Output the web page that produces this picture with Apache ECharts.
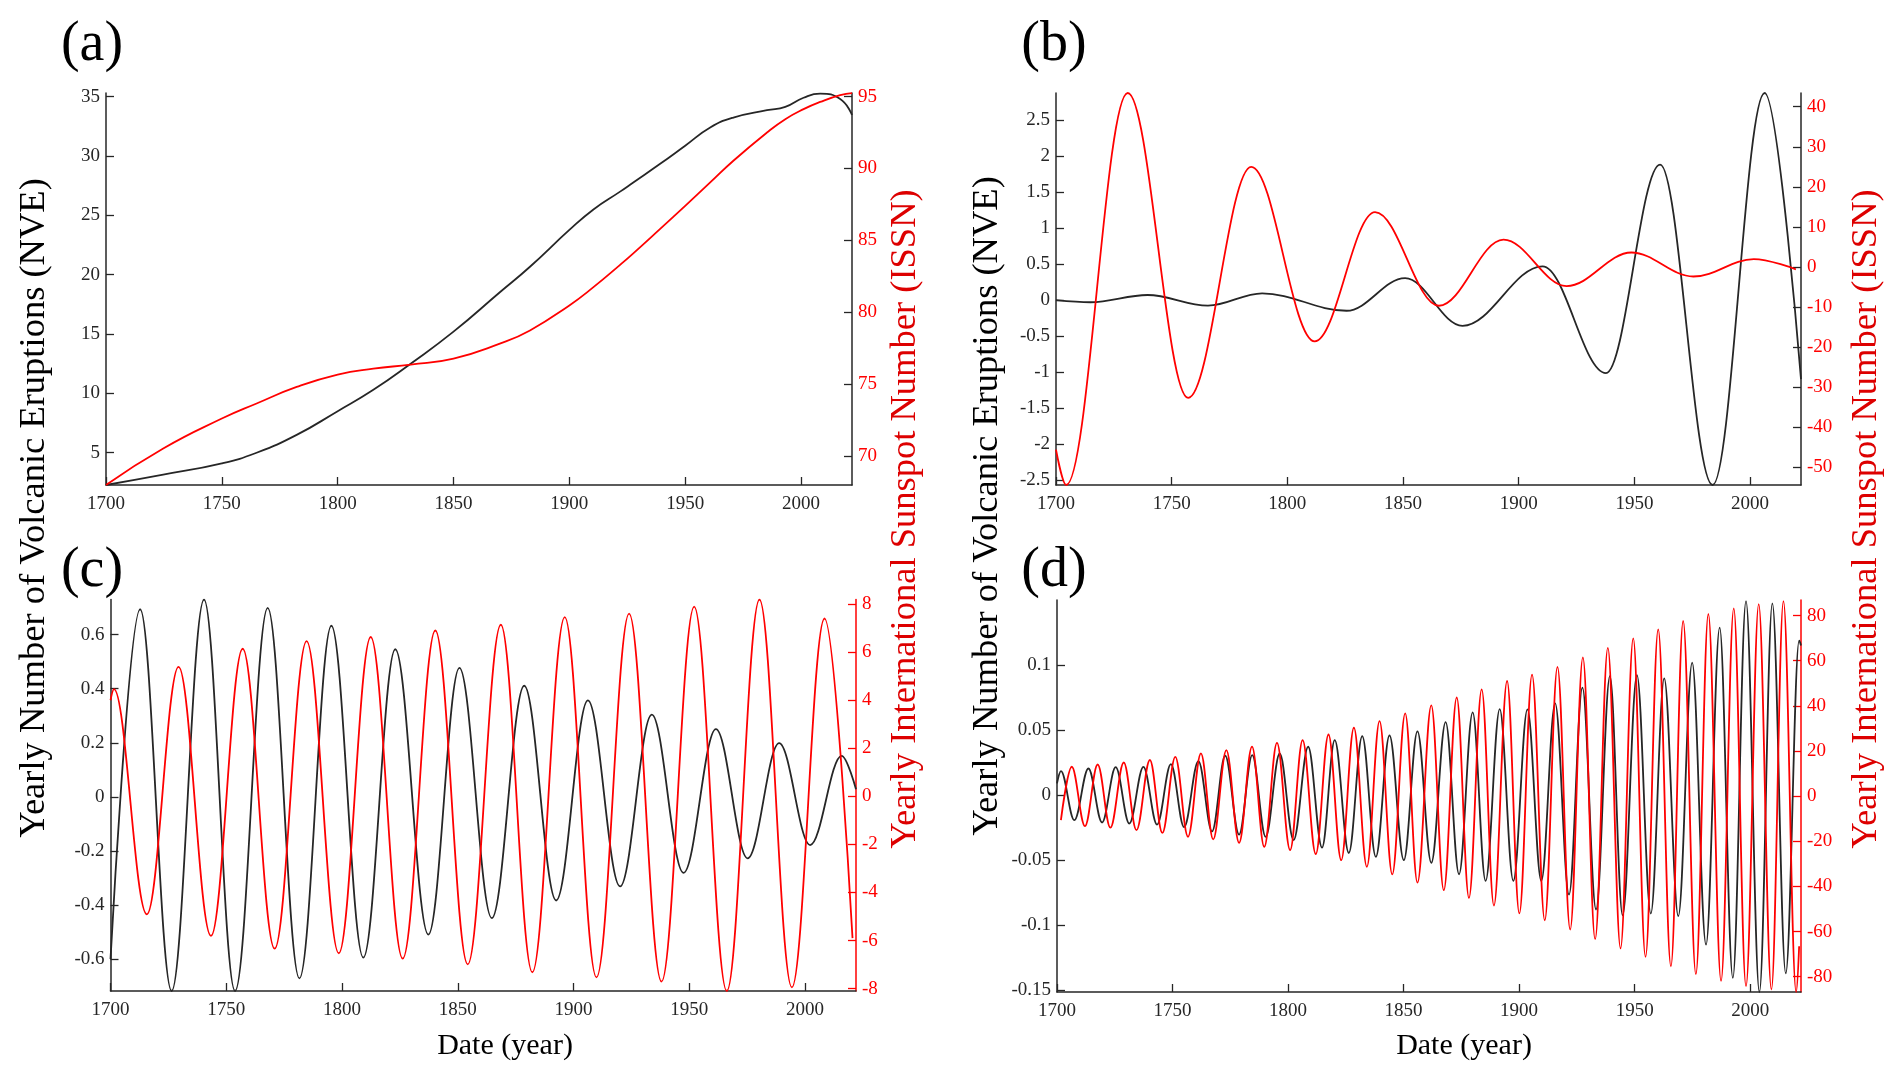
<!DOCTYPE html>
<html lang="en">
<head>
<meta charset="UTF-8">
<title>NVE and ISSN components</title>
<script src="https://cdn.jsdelivr.net/npm/echarts@6/dist/echarts.min.js"></script>
<style>
    html, body { margin: 0; padding: 0; background: #fff; }
    #chart { width: 1890px; height: 1074px; }
</style>
</head>
<body>
<div id="chart"></div>
<script>
    // ---- data ----
    var xTicks = [1700, 1750, 1800, 1850, 1900, 1950, 2000];

    // (a) trend
    var aYears = [1700, 1724.7, 1750, 1765, 1782.3, 1800, 1815.4, 1831.5, 1850, 1870, 1883, 1900, 1910.4, 1921.9,
                  1927.6, 1939.2, 1950, 1960.8, 1970.8, 1985.3, 1993.2, 2001.1, 2008.3, 2016.9, 2022];
    var aNve = [2.28, 3.15, 4.11, 5.0, 6.5, 8.5, 10.3, 12.5, 15.2, 18.52, 20.67, 23.77, 25.5, 27.0,
                27.77, 29.34, 30.87, 32.4, 33.24, 33.86, 34.14, 34.91, 35.25, 34.8, 33.46];
    var aIssn = [67.99, 70.53, 72.61, 73.66, 74.81, 75.67, 76.08, 76.36, 76.78, 77.82, 78.74, 80.48, 81.75, 83.3,
                 84.1, 85.8, 87.4, 89.03, 90.54, 92.5, 93.43, 94.13, 94.63, 95.1, 95.24];
    var aNveTicks = [5, 10, 15, 20, 25, 30, 35];
    var aIssnTicks = [70, 75, 80, 85, 90, 95];

    // (b) long period component (turning points)
    var bNveYears = [1700, 1714.9, 1739.6, 1765.7, 1789.1, 1825.6, 1850.9, 1875.7, 1910.3, 1937.7, 1961.1, 1983.8, 2006.3, 2022];
    var bNve = [0.0, -0.03, 0.071, -0.077, 0.095, -0.148, 0.305, -0.358, 0.47, -1.015, 1.886, -2.572, 2.881, -1.1];
    var bIssnYears = [1700, 1704.4, 1731.0, 1757.1, 1784.4, 1811.8, 1837.9, 1865.5, 1893.4, 1920.7, 1948.7, 1975.5, 2001.6, 2019.8];
    var bIssn = [-45.6, -54.45, 43.42, -32.7, 25.0, -18.6, 13.7, -9.7, 6.8, -4.8, 3.6, -2.4, 1.95, -0.6];
    var bNveTicks = [-2.5, -2, -1.5, -1, -0.5, 0, 0.5, 1, 1.5, 2, 2.5];
    var bIssnTicks = [-50, -40, -30, -20, -10, 0, 10, 20, 30, 40];

    // (c) ~28 year component
    var cNveYears = [1700, 1712.8, 1726.4, 1740.4, 1753.8, 1767.9, 1781.6, 1795.4, 1809.2, 1823.0, 1837.3, 1850.7, 1864.7,
                     1878.7, 1892.5, 1906.2, 1920.1, 1933.8, 1947.5, 1961.5, 1975.2, 1988.8, 2002.2, 2015.8, 2022];
    var cNve = [-0.60, 0.694, -0.7177, 0.730, -0.7177, 0.699, -0.671, 0.633, -0.594, 0.546, -0.509, 0.477, -0.448,
                0.411, -0.383, 0.357, -0.331, 0.304, -0.281, 0.251, -0.227, 0.199, -0.178, 0.152, 0.028];
    var cIssnYears = [1700, 1701.5, 1715.7, 1729.4, 1743.4, 1757.1, 1770.9, 1784.7, 1798.6, 1812.4, 1826.2, 1840.3, 1854.3,
                      1868.6, 1882.2, 1896.2, 1909.9, 1924.0, 1938.0, 1952.1, 1966.2, 1980.3, 1994.3, 2008.4, 2020.5];
    var cIssn = [4.0, 4.46, -4.91, 5.39, -5.81, 6.14, -6.34, 6.46, -6.53, 6.63, -6.75, 6.90, -6.99,
                 7.14, -7.32, 7.46, -7.53, 7.60, -7.71, 7.89, -8.10, 8.19, -7.95, 7.40, -5.9];
    var cNveTicks = [-0.6, -0.4, -0.2, 0, 0.2, 0.4, 0.6];
    var cIssnTicks = [-8, -6, -4, -2, 0, 2, 4, 6, 8];

    // (d) ~11 year component
    var dNveYears = [1700, 1701.7, 1707.5, 1713.6, 1719.5, 1725.4, 1731.3, 1737.4, 1743.3, 1749.3, 1755.0, 1761.2,
                     1767.1, 1772.8, 1778.8, 1784.5, 1790.3, 1796.4, 1802.4, 1808.7, 1814.7, 1820.2, 1826.3, 1832.1,
                     1838.0, 1843.9, 1850.1, 1856.0, 1862.0, 1868.2, 1874.0, 1879.9, 1885.5, 1891.6, 1897.5, 1903.6,
                     1909.6, 1915.6, 1921.6, 1927.4, 1933.3, 1939.3, 1944.8, 1951.0, 1957.0, 1962.8, 1968.9, 1974.9,
                     1980.9, 1986.8, 1992.5, 1998.2, 2004.0, 2009.6, 2015.4, 2021.2, 2022];
    var dNve = [0.009, 0.0185, -0.0192, 0.0205, -0.021, 0.0215, -0.0218, 0.0218, -0.0226, 0.0238, -0.0246, 0.0262,
                -0.0279, 0.0303, -0.0303, 0.0308, -0.032, 0.032, -0.0346, 0.0372, -0.0403, 0.0423, -0.0444, 0.0454,
                -0.0474, 0.0459, -0.050, 0.049, -0.052, 0.0562, -0.0608, 0.0636, -0.0659, 0.0662, -0.0659, 0.0659,
                -0.0659, 0.0705, -0.0764, 0.0826, -0.0879, 0.0915, -0.0923, 0.0923, -0.091, 0.0897, -0.093, 0.1018,
                -0.1149, 0.1287, -0.1405, 0.1492, -0.1513, 0.1474, -0.137, 0.1187, 0.115];
    var dIssnYears = [1701.7, 1706.4, 1712.1, 1717.6, 1723.1, 1728.9, 1734.4, 1740.2, 1745.6, 1751.2, 1756.7, 1762.3,
                      1767.6, 1773.3, 1778.8, 1784.4, 1789.7, 1795.2, 1800.9, 1806.3, 1812.0, 1817.5, 1823.0, 1828.5,
                      1834.1, 1839.6, 1845.1, 1850.7, 1856.0, 1862.0, 1867.4, 1873.0, 1878.3, 1883.8, 1889.1, 1894.8,
                      1900.1, 1905.6, 1911.1, 1916.6, 1922.1, 1927.6, 1932.9, 1938.4, 1943.9, 1949.4, 1954.7, 1960.2,
                      1965.7, 1971.0, 1976.5, 1981.9, 1987.4, 1992.9, 1998.2, 2003.7, 2009.2, 2014.4, 2019.9, 2021.2];
    var dIssn = [-10.6, 13.0, -13.3, 14.0, -14.0, 14.9, -15.1, 16.0, -16.3, 17.4, -18.0, 18.9,
                 -19.2, 20.4, -20.7, 21.9, -22.5, 23.6, -23.9, 24.8, -25.7, 27.3, -28.4, 30.3,
                 -31.3, 33.2, -34.7, 36.7, -38.3, 40.2, -41.7, 43.7, -45.1, 47.3, -48.5, 51.0,
                 -52.0, 53.8, -55.0, 57.3, -59.1, 61.5, -63.4, 65.7, -67.5, 69.9, -71.2, 73.9,
                 -75.4, 77.6, -78.9, 80.7, -81.9, 83.2, -84.2, 85.1, -85.7, 86.4, -86.8, -66.5];
    var dNveTicks = [-0.15, -0.1, -0.05, 0, 0.05, 0.1];
    var dIssnTicks = [-80, -60, -40, -20, 0, 20, 40, 60, 80];

    // ---- layout ----
    var DARK = '#262626';
    var RED = '#ff0000';
    var FONT = '"Liberation Serif", "Times New Roman", serif';

    var panels = [
        {grid: {left: 106, top: 93, width: 746, height: 392}, yl: [2.28, 35.31], yr: [67.99, 95.25],
         nve: [aYears, aNve], issn: [aYears, aIssn], tl: aNveTicks, tr: aIssnTicks, redAxis: false, trend: true},
        {grid: {left: 1056, top: 93, width: 745, height: 392}, yl: [-2.572, 2.881], yr: [-54.45, 43.42],
         nve: [bNveYears, bNve], issn: [bIssnYears, bIssn], tl: bNveTicks, tr: bIssnTicks, redAxis: false},
        {grid: {left: 110.5, top: 599.5, width: 745.5, height: 391.5}, yl: [-0.7177, 0.730], yr: [-8.10, 8.19],
         nve: [cNveYears, cNve], issn: [cIssnYears, cIssn], tl: cNveTicks, tr: cIssnTicks, redAxis: true},
        {grid: {left: 1057, top: 600, width: 744, height: 392}, yl: [-0.1513, 0.150], yr: [-86.8, 86.9],
         nve: [dNveYears, dNve], issn: [dIssnYears, dIssn], tl: dNveTicks, tr: dIssnTicks, redAxis: true}
    ];

    function pairs(xs, ys) {
        return xs.map(function (x, i) { return [x, ys[i]]; });
    }

    function label(v) { return String(v); }

    var grid = [], xAxis = [], yAxis = [], series = [];

    panels.forEach(function (p, i) {
        grid.push(p.grid);
        xAxis.push({
            type: 'value', gridIndex: i, min: 1700, max: 2022,
            axisLine: {show: true, onZero: false, lineStyle: {color: DARK, width: 1.5}},
            axisTick: {show: true, inside: true, length: 8, customValues: xTicks, lineStyle: {color: DARK, width: 1.3}},
            axisLabel: {customValues: xTicks, formatter: label, color: DARK, fontSize: 19, fontFamily: FONT, margin: 10},
            splitLine: {show: false}
        });
        yAxis.push({
            type: 'value', gridIndex: i, position: 'left', min: p.yl[0], max: p.yl[1],
            axisLine: {show: true, onZero: false, lineStyle: {color: DARK, width: 1.5}},
            axisTick: {show: true, inside: true, length: 8, customValues: p.tl, lineStyle: {color: DARK, width: 1.3}},
            axisLabel: {customValues: p.tl, formatter: label, color: DARK, fontSize: 19, fontFamily: FONT, margin: 6},
            splitLine: {show: false}
        });
        var rc = p.redAxis ? RED : DARK;
        yAxis.push({
            type: 'value', gridIndex: i, position: 'right', min: p.yr[0], max: p.yr[1],
            axisLine: {show: true, onZero: false, lineStyle: {color: rc, width: 1.5}},
            axisTick: {show: true, inside: true, length: 8, customValues: p.tr, lineStyle: {color: rc, width: 1.3}},
            axisLabel: {customValues: p.tr, formatter: label, color: RED, fontSize: 19, fontFamily: FONT, margin: 6},
            splitLine: {show: false}
        });
        var sm = p.trend ? {smooth: 0.5} : {smooth: 0.36, smoothMonotone: 'x'};
        series.push(Object.assign({
            type: 'line', xAxisIndex: i, yAxisIndex: 2 * i, data: pairs(p.nve[0], p.nve[1]),
            showSymbol: false, symbol: 'none', silent: true,
            lineStyle: {color: DARK, width: 1.8}
        }, sm));
        series.push(Object.assign({
            type: 'line', xAxisIndex: i, yAxisIndex: 2 * i + 1, data: pairs(p.issn[0], p.issn[1]),
            showSymbol: false, symbol: 'none', silent: true,
            lineStyle: {color: RED, width: 1.8}
        }, sm));
    });

    function text(str, x, y, size, color, rot) {
        return {
            type: 'text', x: x, y: y, rotation: rot || 0, silent: true,
            style: {text: str, fill: color, fontSize: size, fontFamily: FONT,
                    textAlign: 'center', textVerticalAlign: 'middle'}
        };
    }

    var nveName = 'Yearly Number of Volcanic Eruptions (NVE)';
    var issnName = 'Yearly International Sunspot Number (ISSN)';
    var up = Math.PI / 2;

    var graphic = [
        text('(a)', 92, 45, 56, '#000'),
        text('(b)', 1054, 45, 56, '#000'),
        text('(c)', 92, 571, 56, '#000'),
        text('(d)', 1054, 571, 56, '#000'),
        text(nveName, 34, 508, 36.5, '#000', up),
        text(nveName, 987, 506, 36.5, '#000', up),
        text(issnName, 905, 519, 36.5, '#dd0000', up),
        text(issnName, 1866, 519, 36.5, '#dd0000', up),
        text('Date (year)', 505, 1046, 30, '#000'),
        text('Date (year)', 1464, 1046, 30, '#000')
    ];

    var myChart = echarts.init(document.getElementById('chart'));
    myChart.setOption({
        animation: false,
        backgroundColor: '#fff',
        grid: grid,
        xAxis: xAxis,
        yAxis: yAxis,
        series: series,
        graphic: graphic
    });
</script>
</body>
</html>
